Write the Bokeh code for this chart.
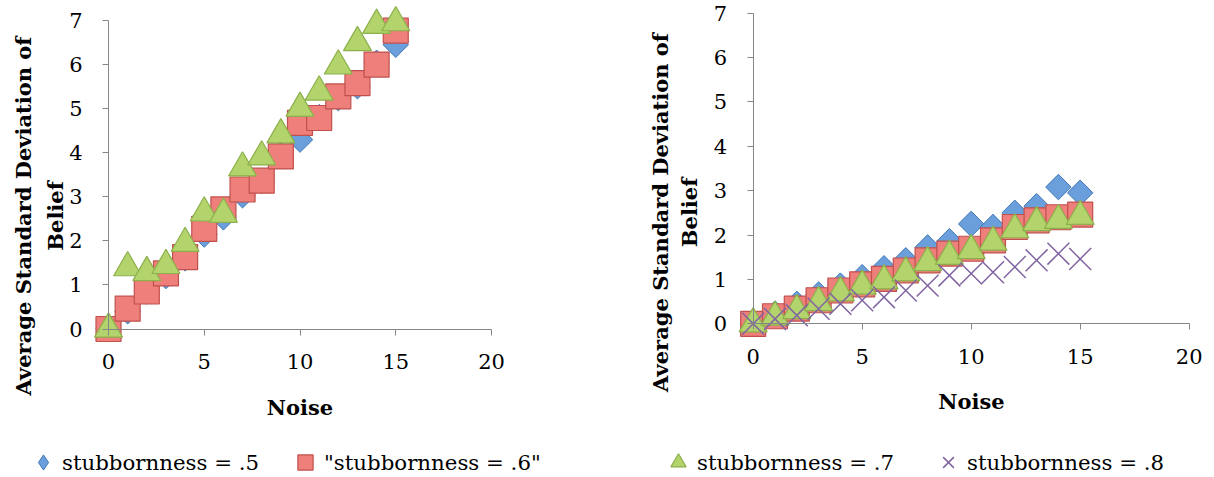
import math
from bokeh.plotting import figure
from bokeh.models import Range1d, FixedTicker, Legend, LegendItem, LinearAxis
from bokeh.layouts import row
from bokeh.embed import file_html
from bokeh.resources import INLINE

# ---------------- data ----------------
noise = list(range(16))
x_ticks = [0, 5, 10, 15, 20]
y_ticks = [0, 1, 2, 3, 4, 5, 6, 7]

left_s05 = [0, 0.40, 0.85, 1.20, 1.60, 2.14, 2.53, 3.03, 3.35, 3.95, 4.29, 4.80, 5.23, 5.50, 6.03, 6.44]
left_s06 = [0, 0.46, 0.85, 1.26, 1.63, 2.27, 2.71, 3.16, 3.36, 3.91, 4.67, 4.78, 5.27, 5.57, 5.99, 6.76]
left_s07 = [0, 1.39, 1.28, 1.44, 1.94, 2.63, 2.60, 3.65, 3.90, 4.40, 5.00, 5.37, 5.96, 6.49, 6.88, 6.94]

right_s05 = [0, 0.23, 0.45, 0.66, 0.86, 1.05, 1.25, 1.43, 1.72, 1.86, 2.25, 2.18, 2.50, 2.65, 3.08, 2.95]
right_s06 = [0, 0.17, 0.34, 0.53, 0.75, 0.89, 1.01, 1.20, 1.43, 1.58, 1.69, 1.88, 2.18, 2.33, 2.40, 2.46]
right_s07 = [0, 0.15, 0.30, 0.48, 0.70, 0.85, 0.97, 1.15, 1.38, 1.52, 1.65, 1.84, 2.12, 2.28, 2.33, 2.42]
right_s08 = [0, 0.11, 0.19, 0.34, 0.45, 0.53, 0.60, 0.75, 0.86, 1.09, 1.13, 1.16, 1.28, 1.43, 1.58, 1.46]

labels = ["stubbornness = .5", '"stubbornness = .6"', "stubbornness = .7", "stubbornness = .8"]
x_title = "Noise"
y_title = "Average Standard Deviation of\nBelief"

# ---------------- styles ----------------
BLUE_F, BLUE_L = "#6A9FDB", "#3F77B6"
RED_F, RED_L = "#EE7F7A", "#C0504D"
GREEN_F, GREEN_L = "#B3D36C", "#8CB04A"
PURPLE = "#8064A2"
AXIS = "#868686"
SERIF = "DejaVu Serif"


def style_text(ax):
    ax.major_label_text_font = SERIF
    ax.major_label_text_font_size = "21px"
    ax.major_label_text_color = "#000000"
    ax.axis_label_text_font = SERIF
    ax.axis_label_text_font_size = "21px"
    ax.axis_label_text_font_style = "bold"
    ax.axis_label_text_color = "#000000"


def make_fig(width, xr, yr, title_span, title_standoff, title_lh):
    p = figure(width=width, height=477, frame_width=width, frame_height=477,
               x_range=Range1d(*xr), y_range=Range1d(*yr),
               output_backend="svg", toolbar_location=None,
               min_border=0, min_border_left=0, min_border_right=0,
               min_border_top=0, min_border_bottom=0)
    p.xgrid.visible = False
    p.ygrid.visible = False
    p.outline_line_color = None
    for ax, b, t in ((p.xaxis[0], (0, 20), x_ticks), (p.yaxis[0], (0, 7), y_ticks)):
        ax.fixed_location = 0
        ax.bounds = b
        ax.ticker = FixedTicker(ticks=t)
        ax.axis_line_color = AXIS
        ax.major_tick_line_color = AXIS
        ax.major_tick_out = 6
        ax.major_tick_in = 0
        ax.minor_tick_line_color = None
        style_text(ax)
    p.xaxis.axis_label = x_title
    p.xaxis.major_label_standoff = 19
    p.yaxis.major_label_standoff = 20
    p.xaxis.axis_label_standoff = 22
    # separate axis that only carries the two-line y title
    ta = LinearAxis(fixed_location=0, bounds=title_span, ticker=FixedTicker(ticks=[]),
                    axis_line_color=None, major_tick_out=0, major_tick_in=0,
                    minor_tick_line_color=None, axis_label=y_title,
                    axis_label_standoff=title_standoff)
    style_text(ta)
    ta.axis_label_text_line_height = title_lh
    p.add_layout(ta, "left")
    return p


def diamonds(p, ys, size=18, marker="square", angle=math.pi / 4):
    return p.scatter(noise, ys, marker=marker, angle=angle, size=size,
                     fill_color=BLUE_F, line_color=BLUE_L, line_width=1)


def squares(p, ys):
    return p.scatter(noise, ys, marker="square", size=25,
                     fill_color=RED_F, line_color=RED_L, line_width=1.2)


def triangles(p, ys):
    return p.scatter(noise, ys, marker="triangle", size=28,
                     fill_color=GREEN_F, line_color=GREEN_L, line_width=1.2)


def crosses(p, ys):
    return p.scatter(noise, ys, marker="x", size=31, line_color=PURPLE, line_width=1.5)


def legend(p, items, loc, spacing):
    lg = Legend(items=items, orientation="horizontal", location=loc,
                border_line_color=None, background_fill_alpha=0,
                padding=0, margin=0, spacing=spacing,
                glyph_width=38, glyph_height=38, label_standoff=0,
                label_text_font=SERIF, label_text_font_size="21.3px",
                label_text_color="#000000")
    p.add_layout(lg)


# ---------------- left chart ----------------
pl = make_fig(620, (-5.640, 26.736), (-3.364, 7.442), (0, 5.14), 41, 1.27)
diamonds(pl, left_s05)
rs6 = squares(pl, left_s06)
triangles(pl, left_s07)
# same series drawn as zero-size diamonds: used only for the legend swatch
leg_d = diamonds(pl, left_s05, size=0, marker="diamond", angle=0)
legend(pl, [LegendItem(label=labels[0], renderers=[leg_d]),
            LegendItem(label=labels[1], renderers=[rs6])], (24, -4), 27)

# ---------------- right chart ----------------
pr = make_fig(594, (-6.087, 21.161), (-3.462, 7.282), (0, 5.0), 52, 1.15)
diamonds(pr, right_s05)
squares(pr, right_s06)
rt7 = triangles(pr, right_s07)
rx8 = crosses(pr, right_s08)
legend(pr, [LegendItem(label=labels[2], renderers=[rt7]),
            LegendItem(label=labels[3], renderers=[rx8])], (39, -4), 35)

layout = row(pl, pr)
open("out.html", "w").write(file_html(layout, INLINE))
